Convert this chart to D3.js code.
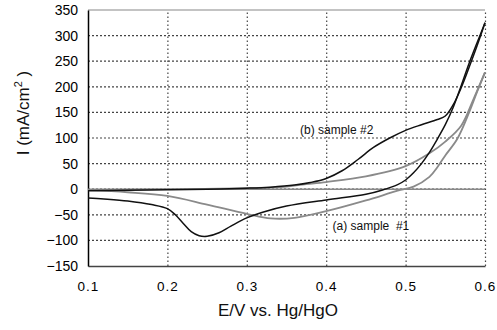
<!DOCTYPE html>
<html>
<head>
<meta charset="utf-8">
<script src="https://cdn.jsdelivr.net/npm/d3@7"></script>
<style>
  body { margin: 0; background: #fff; }
  svg { font-family: "Liberation Sans", Arial, sans-serif; }
</style>
</head>
<body>
<div id="chart"></div>
<script>
// sample #2 (black), forward and reverse sweep
const b_forward = [
  [0.1, -3], [0.15, -2], [0.2, -1], [0.25, 0], [0.3, 2], [0.33, 4], [0.36, 8], [0.38, 13],
  [0.4, 21], [0.42, 36], [0.44, 58], [0.46, 82], [0.48, 100], [0.5, 115], [0.52, 126],
  [0.54, 136], [0.55, 143], [0.56, 165], [0.57, 198], [0.58, 238], [0.59, 280], [0.6, 325]
]
const b_reverse = [
  [0.6, 325], [0.59, 286], [0.58, 246], [0.57, 202], [0.56, 160], [0.55, 126], [0.54, 98],
  [0.53, 72], [0.52, 50], [0.51, 32], [0.5, 18], [0.49, 9], [0.47, -2], [0.45, -10],
  [0.4, -21], [0.35, -33], [0.32, -45], [0.3, -56], [0.28, -72], [0.265, -85], [0.25, -92],
  [0.24, -91], [0.23, -83], [0.22, -67], [0.21, -50], [0.2, -38], [0.18, -30], [0.15, -23],
  [0.12, -19], [0.1, -17]
]
// sample #1 (gray)
const a_forward = [
  [0.1, -2], [0.15, -6], [0.2, -13], [0.25, -30], [0.3, -48], [0.33, -57], [0.36, -56],
  [0.4, -43], [0.45, -22], [0.49, -3], [0.51, 5], [0.53, 24], [0.54, 43], [0.55, 66],
  [0.565, 98], [0.58, 150], [0.59, 190], [0.6, 228]
]
const a_reverse = [
  [0.6, 228], [0.585, 174], [0.57, 124], [0.55, 93], [0.53, 70], [0.5, 45], [0.45, 25],
  [0.4, 14], [0.37, 9], [0.35, 5], [0.3, 2], [0.2, 0], [0.1, -2]
]
const xTicks = [0.1, 0.2, 0.3, 0.4, 0.5, 0.6]
const yTicks = [-150, -100, -50, 0, 50, 100, 150, 200, 250, 300, 350]
const labels = [
  {text: "(b) sample #2", x: 0.367, y: 108},
  {text: "(a) sample  #1", x: 0.408, y: -79}
]

const width = 497, height = 330
const marginLeft = 88, marginRight = 12, marginTop = 10, marginBottom = 64

const x = d3.scaleLinear([0.1, 0.6], [marginLeft, width - marginRight])
const y = d3.scaleLinear([-150, 350], [height - marginBottom, marginTop])

const svg = d3.select("#chart").append("svg")
    .attr("width", width)
    .attr("height", height)
    .attr("viewBox", [0, 0, width, height])

// horizontal grid, dotted; top border solid gray
svg.append("g")
    .selectAll("path")
    .data(yTicks.slice(1))
    .join("path")
    .attr("d", d => `M${x(0.1)},${y(d)}H${x(0.6)}`)
    .attr("fill", "none")
    .attr("stroke", d => d === 350 ? "#888" : "#444")
    .attr("stroke-width", 1.2)
    .attr("stroke-dasharray", d => d === 350 ? null : "2,2")

// vertical grid, dotted
svg.append("g")
    .attr("transform", `translate(0,${height - marginBottom})`)
    .call(d3.axisBottom(x).tickValues(xTicks.slice(1)).tickSize(-(height - marginTop - marginBottom)).tickFormat(""))
    .call(g => g.select(".domain").remove())
    .call(g => g.selectAll(".tick line")
        .attr("stroke", "#444")
        .attr("stroke-width", 1.2)
        .attr("stroke-dasharray", "1.5,2.5"))

const xAxis = d3.axisBottom(x).tickValues(xTicks).tickSize(0).tickPadding(15).tickFormat(d3.format(".1f"))
const yAxis = d3.axisLeft(y).tickValues(yTicks).tickSize(0).tickPadding(10)

svg.append("g")
    .attr("transform", `translate(0,${height - marginBottom})`)
    .call(xAxis)
    .call(g => g.select(".domain").attr("stroke", "#444").attr("stroke-width", 1.5))
    .call(g => g.selectAll("text").attr("font-size", 13.5).attr("fill", "#000").attr("letter-spacing", 1))

svg.append("g")
    .attr("transform", `translate(${marginLeft},0)`)
    .call(yAxis)
    .call(g => g.select(".domain").attr("stroke", "#000").attr("stroke-width", 1.5))
    .call(g => g.selectAll("text").attr("font-size", 14).attr("fill", "#000"))

// zero line
svg.append("line")
    .attr("x1", x(0.1)).attr("x2", x(0.6))
    .attr("y1", y(0)).attr("y2", y(0))
    .attr("stroke", "#888").attr("stroke-width", 1.5)

const line = d3.line()
    .curve(d3.curveCatmullRom)
    .x(d => x(d[0]))
    .y(d => y(d[1]))

// sample #1 gray
for (const s of [a_forward, a_reverse]) {
  svg.append("path")
      .attr("fill", "none")
      .attr("stroke", "#8a8a8a")
      .attr("stroke-width", 1.8)
      .attr("d", line(s))
}
// sample #2 black
for (const s of [b_forward, b_reverse]) {
  svg.append("path")
      .attr("fill", "none")
      .attr("stroke", "#111")
      .attr("stroke-width", 1.5)
      .attr("d", line(s))
}

svg.append("g")
    .selectAll("text")
    .data(labels)
    .join("text")
    .attr("x", d => x(d.x))
    .attr("y", d => y(d.y))
    .attr("font-size", 12)
    .attr("fill", "#111")
    .attr("style", "white-space: pre")
    .text(d => d.text)

svg.append("text")
    .attr("x", 278)
    .attr("y", 316)
    .attr("text-anchor", "middle")
    .attr("font-size", 17)
    .attr("fill", "#111")
    .text("E/V vs. Hg/HgO")

svg.append("text")
    .attr("transform", "translate(29,113) rotate(-90)")
    .attr("text-anchor", "middle")
    .attr("font-size", 17)
    .attr("fill", "#111")
    .call(t => t.append("tspan").text("I (mA/cm"))
    .call(t => t.append("tspan").attr("font-size", 11).attr("dy", -7).text("2"))
    .call(t => t.append("tspan").attr("dy", 7).text(" )"))
</script>
</body>
</html>
